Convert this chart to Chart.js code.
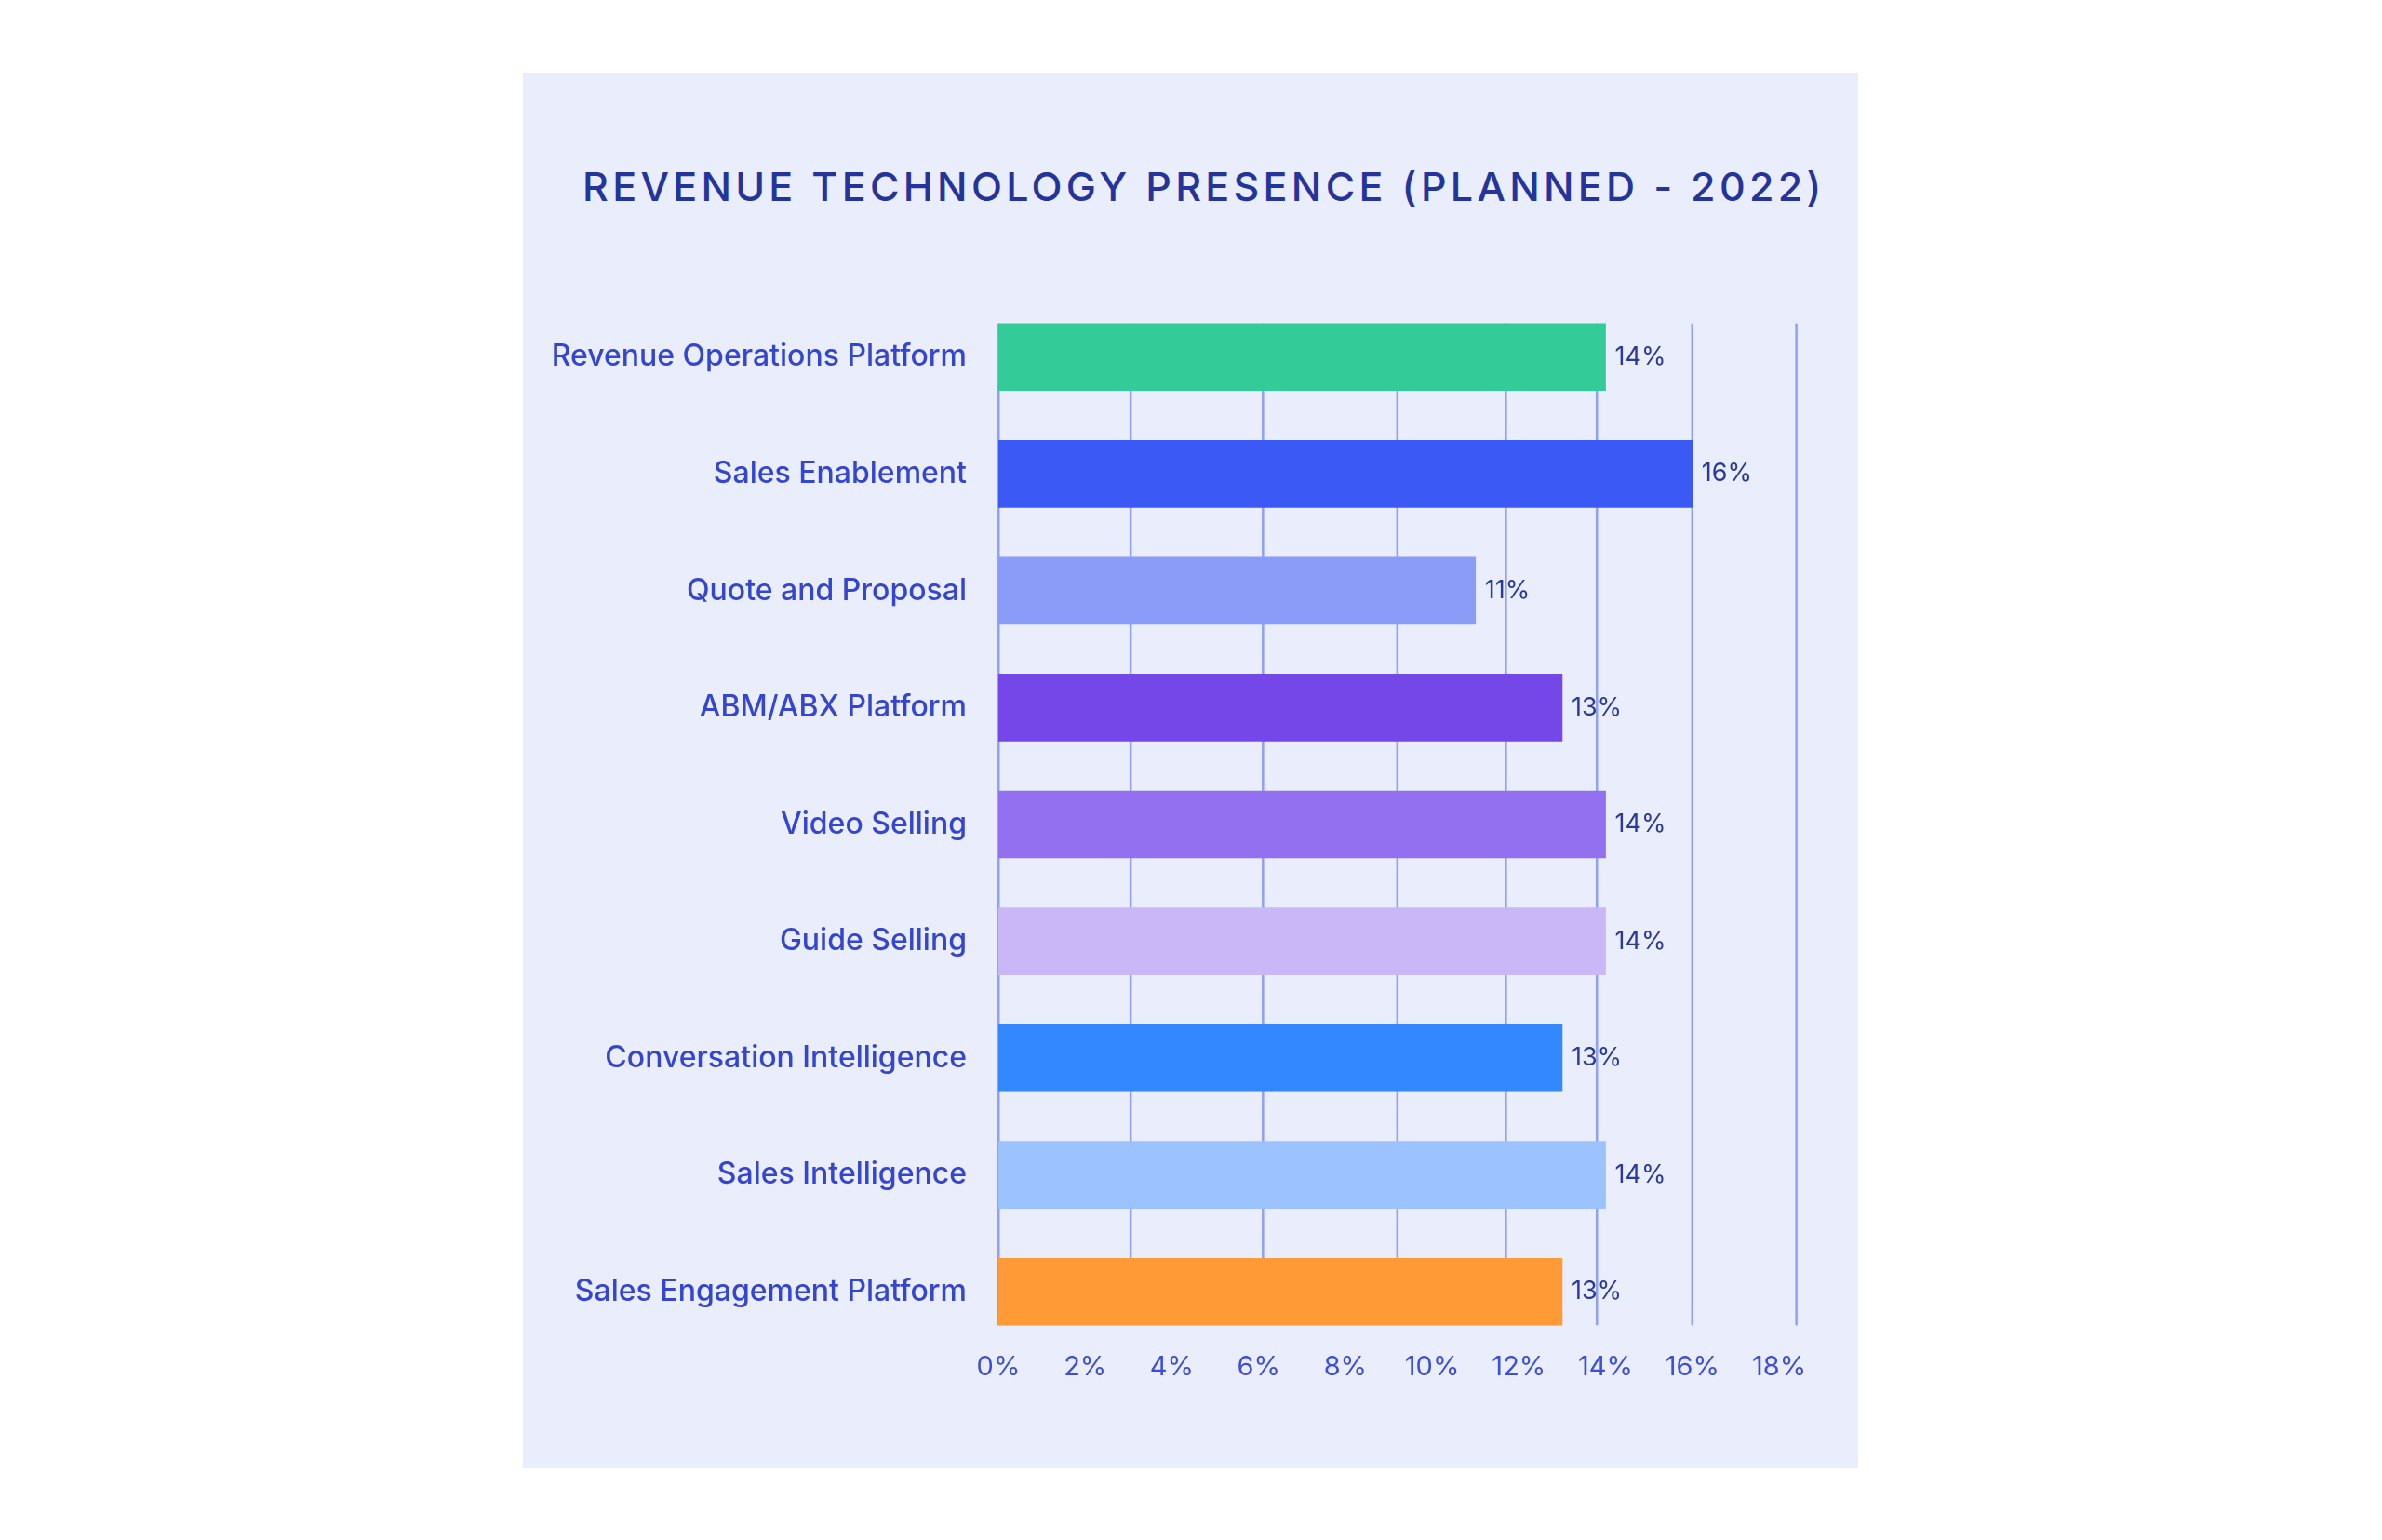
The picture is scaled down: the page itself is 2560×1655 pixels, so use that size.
<html>

<head>
    <script src="https://cdn.jsdelivr.net/npm/chart.js"></script>
    <style>
        body { margin: 0; background: #ffffff; width: 2560px; height: 1655px; overflow: hidden; }
        #panel { position: absolute; left: 562px; top: 78px; width: 1435px; height: 1500px; background: #eaedfb; }
        #title { position: absolute; left: 626px; top: 179px; font-family: Inter, "Noto Sans", sans-serif; font-weight: 500;
            font-size: 43px; line-height: 43px; letter-spacing: 4.3px; color: #24349a; white-space: nowrap; }
        #myChart { position: absolute; left: 0; top: 0; }
    </style>
</head>

<body>
    <div id="panel"></div>
    <div id="title">REVENUE TECHNOLOGY PRESENCE (PLANNED - 2022)</div>
    <canvas id="myChart" width="2560" height="1655"></canvas>
</body>
<script>
    var categories = ["Revenue Operations Platform", "Sales Enablement", "Quote and Proposal", "ABM/ABX Platform",
        "Video Selling", "Guide Selling", "Conversation Intelligence", "Sales Intelligence", "Sales Engagement Platform"];
    var values = [14, 16, 11, 13, 14, 14, 13, 14, 13];
    var barColors = ["#33cc99", "#3b5af5", "#8a9cf8", "#7547e8", "#9370ef", "#c9b7f7", "#3388ff", "#9cc3ff", "#ff9a36"];
    var xTicks = [0, 2, 4, 6, 8, 10, 12, 14, 16, 18];
    // vertical guide lines in the original do not sit on every tick
    var gridValues = [3.05, 6.1, 9.2, 11.7, 13.8, 16, 18.4];

    var gridColor = "#8fa0f7";

    // grid lines only span from the first bar top to the last bar bottom
    var gridPlugin = {
        id: "gridBehind",
        beforeDatasetsDraw: function (chart) {
            var ctx = chart.ctx;
            var bars = chart.getDatasetMeta(0).data;
            var top = bars[0].y - bars[0].height / 2;
            var bottom = bars[bars.length - 1].y + bars[bars.length - 1].height / 2;
            var x = chart.scales.x;
            ctx.save();
            ctx.strokeStyle = gridColor;
            ctx.lineWidth = 2.5;
            gridValues.forEach(function (v) {
                var px = x.getPixelForValue(v);
                ctx.beginPath();
                ctx.moveTo(px, top);
                ctx.lineTo(px, bottom);
                ctx.stroke();
            });
            ctx.lineWidth = 3;
            var x0 = x.getPixelForValue(0);
            ctx.beginPath();
            ctx.moveTo(x0, top);
            ctx.lineTo(x0, bottom);
            ctx.stroke();
            ctx.restore();
        }
    };

    var valueLabels = {
        id: "valueLabels",
        afterDatasetsDraw: function (chart) {
            var ctx = chart.ctx;
            var bars = chart.getDatasetMeta(0).data;
            ctx.save();
            ctx.font = "400 27px Inter, 'Noto Sans', sans-serif";
            ctx.fillStyle = "#2b3a99";
            ctx.textAlign = "left";
            ctx.textBaseline = "middle";
            bars.forEach(function (bar, i) {
                ctx.fillText(values[i] + "%", bar.x + 10, bar.y);
            });
            ctx.restore();
        }
    };

    var ctx = document.getElementById("myChart").getContext("2d");
    var chart = new Chart(ctx, {
        type: "bar",
        data: {
            labels: categories,
            datasets: [{
                data: values,
                backgroundColor: barColors,
                borderWidth: 0,
                barThickness: 72
            }]
        },
        options: {
            indexAxis: "y",
            responsive: false,
            animation: false,
            devicePixelRatio: 1,
            layout: { padding: { left: 564, right: 648, top: 321, bottom: 144 } },
            plugins: { legend: { display: false }, tooltip: { enabled: false } },
            scales: {
                x: {
                    min: 0,
                    max: 18,
                    afterBuildTicks: function (scale) {
                        scale.ticks = xTicks.map(function (v) { return { value: v }; });
                    },
                    afterFit: function (scale) { scale.height = 60; },
                    grid: { display: false },
                    border: { display: false },
                    ticks: {
                        padding: -7,
                        color: "#3d4fd6",
                        font: { family: "Inter, 'Noto Sans', sans-serif", size: 29 },
                        callback: function (v) { return v + "%"; }
                    }
                },
                y: {
                    afterFit: function (scale) { scale.width = 509; },
                    grid: { display: false },
                    border: { display: false },
                    ticks: {
                        padding: 26,
                        color: "#3445cf",
                        font: { family: "Inter, 'Noto Sans', sans-serif", size: 32, weight: "500" }
                    }
                }
            }
        },
        plugins: [gridPlugin, valueLabels]
    });
</script>

</html>
